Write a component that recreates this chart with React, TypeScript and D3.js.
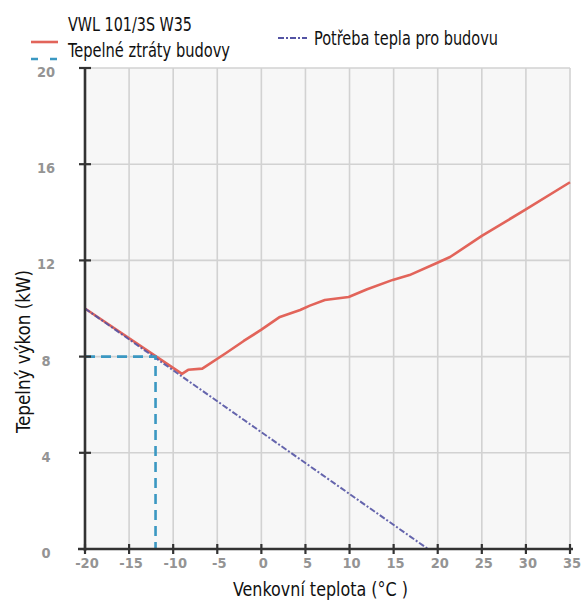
import React from "react";
import * as d3 from "d3";

const W = 581;
const H = 604;

const xTicks = [-20, -15, -10, -5, 0, 5, 10, 15, 20, 25, 30, 35];
const yTicks = [0, 4, 8, 12, 16, 20];

// VWL 101/3S W35 heat pump output (°C, kW)
const pumpTemp = [-20, -9.0, -8.3, -6.7, -4, -2, 0, 2.1, 4.4, 5.5, 7.2, 9.9, 12, 14.9, 16.8, 19.9, 21.4, 25, 29.9, 35];
const pumpPower = [10, 7.28, 7.45, 7.5, 8.15, 8.65, 9.12, 9.65, 9.94, 10.12, 10.35, 10.48, 10.8, 11.19, 11.39, 11.89, 12.14, 13.02, 14.1, 15.25];

// Potřeba tepla pro budovu (building heat demand)
const demandTemp = [-20, 18.9];
const demandPower = [10, 0];

// Tepelné ztráty budovy (design point)
const lossTemp = [-20, -12, -12];
const lossPower = [8, 8, 0];

const FONT = "'DejaVu Sans Condensed', 'Roboto', sans-serif";

export default function App() {
  const x = d3.scaleLinear().domain([-20, 35]).range([85, 570]);
  const y = d3.scaleLinear().domain([0, 20]).range([549, 68]);

  const line = d3
    .line<[number, number]>()
    .x((d) => x(d[0]))
    .y((d) => y(d[1]));

  const pump = pumpTemp.map((t, i) => [t, pumpPower[i]] as [number, number]);
  const demand = demandTemp.map((t, i) => [t, demandPower[i]] as [number, number]);
  const loss = lossTemp.map((t, i) => [t, lossPower[i]] as [number, number]);

  const red = "#e2645a";
  const purple = "#5454a4";
  const cyan = "#3b98c2";

  return (
    <svg
      width={W}
      height={H}
      style={{ position: "absolute", left: 0, top: 0, background: "#ffffff" }}
    >
      {/* plot background */}
      <rect x={x(-20)} y={y(20)} width={x(35) - x(-20)} height={y(0) - y(20)} fill="#f7f7f7" />

      {/* grid */}
      {xTicks.slice(1).map((t) => (
        <line key={"gx" + t} x1={x(t)} x2={x(t)} y1={y(20)} y2={y(0)} stroke="#d2d2d2" strokeWidth={1.6} />
      ))}
      {yTicks.slice(1).map((t) => (
        <line key={"gy" + t} x1={x(-20)} x2={x(35)} y1={y(t)} y2={y(t)} stroke="#d2d2d2" strokeWidth={1.6} />
      ))}

      {/* series */}
      <path d={line(pump) || ""} fill="none" stroke={red} strokeWidth={2.6} strokeLinejoin="round" />
      <path d={line(demand) || ""} fill="none" stroke={purple} strokeWidth={2} strokeDasharray="6,2,2,2" opacity={0.9} />
      <path d={line(loss) || ""} fill="none" stroke={cyan} strokeWidth={2.6} strokeDasharray="10,6" />

      {/* axes */}
      <line x1={x(-20)} x2={x(-20)} y1={y(20)} y2={y(0) + 2} stroke="#333" strokeWidth={2.6} />
      <line x1={x(-20) - 7} x2={x(35) + 3} y1={y(0)} y2={y(0)} stroke="#333" strokeWidth={2.6} />
      {yTicks.slice(1).map((t) => (
        <line key={"ty" + t} x1={x(-20) - 6} x2={x(-20) + 6} y1={y(t)} y2={y(t)} stroke="#333" strokeWidth={2.2} />
      ))}
      {xTicks.map((t) => (
        <line key={"tx" + t} x1={x(t)} x2={x(t)} y1={y(0) - 5} y2={y(0) + 5} stroke="#333" strokeWidth={2.2} />
      ))}

      {/* tick labels */}
      {xTicks.map((t) => (
        <text key={"lx" + t} x={x(t) + 2} y={568} textAnchor="middle" fontFamily={FONT} fontSize={14.5} fontWeight="bold" fill="#949494">
          {t}
        </text>
      ))}
      {yTicks.map((t) => (
        <text key={"ly" + t} x={46} y={y(t) + 9} textAnchor="middle" fontFamily={FONT} fontSize={14.5} fontWeight="bold" fill="#949494">
          {t}
        </text>
      ))}

      {/* axis titles */}
      <text x={233} y={596} fontFamily={FONT} fontSize={19.5} fill="#111" textLength={175} lengthAdjust="spacingAndGlyphs">
        Venkovní teplota (°C )
      </text>
      <text transform={`translate(30,433) rotate(-90)`} fontFamily={FONT} fontSize={19.5} fill="#111" textLength={163} lengthAdjust="spacingAndGlyphs">
        Tepelný výkon (kW)
      </text>

      {/* legend */}
      <line x1={31} x2={58} y1={42} y2={42} stroke={red} strokeWidth={2.6} />
      <text x={68} y={31} fontFamily={FONT} fontSize={20} fill="#111" textLength={124} lengthAdjust="spacingAndGlyphs">
        VWL 101/3S W35
      </text>
      <line x1={31} x2={58} y1={59} y2={59} stroke={cyan} strokeWidth={2.6} strokeDasharray="7,12" />
      <text x={68} y={57} fontFamily={FONT} fontSize={20} fill="#111" textLength={162} lengthAdjust="spacingAndGlyphs">
        Tepelné ztráty budovy
      </text>
      <line x1={278} x2={307} y1={38} y2={38} stroke={purple} strokeWidth={2} strokeDasharray="6,2,2,2" />
      <text x={314} y={45} fontFamily={FONT} fontSize={20} fill="#111" textLength={184} lengthAdjust="spacingAndGlyphs">
        Potřeba tepla pro budovu
      </text>
    </svg>
  );
}
